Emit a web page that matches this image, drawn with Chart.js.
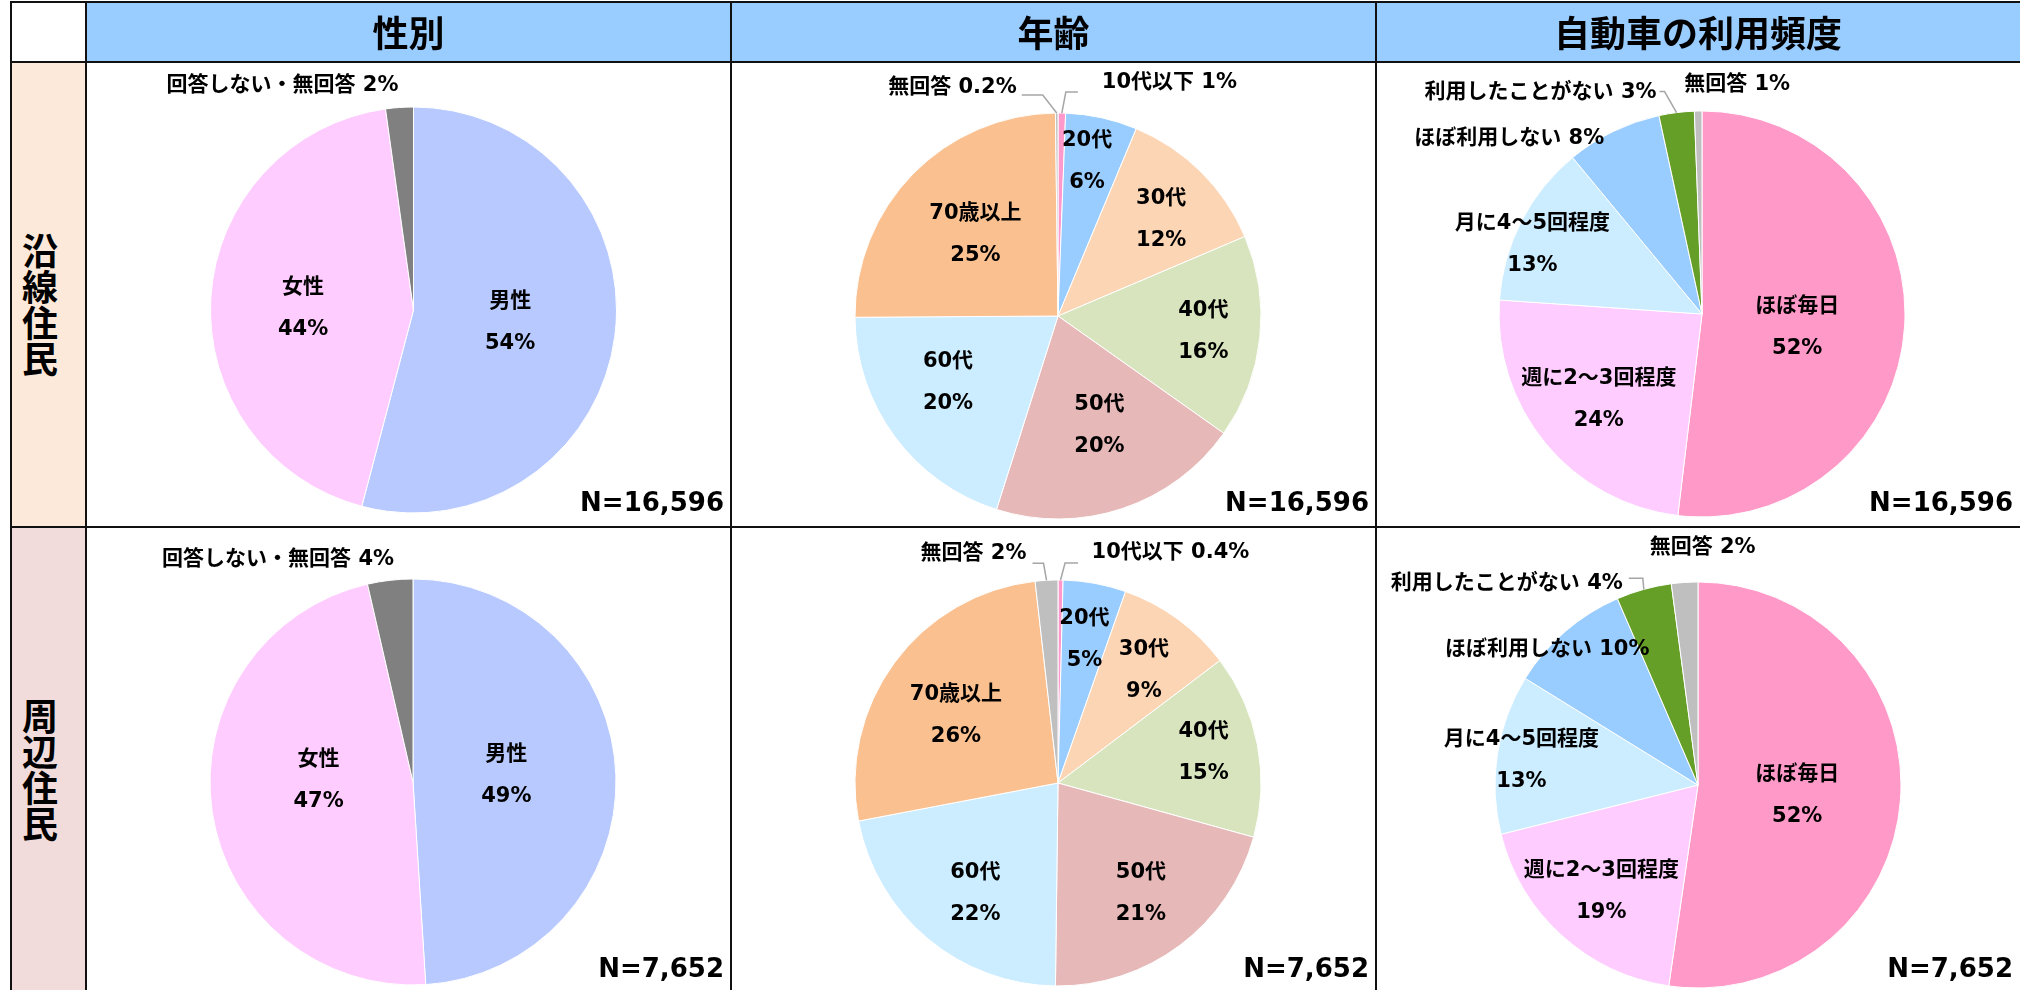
<!DOCTYPE html>
<html>
<head>
<meta charset="utf-8">
<script src="https://cdn.jsdelivr.net/npm/chart.js@4"></script>
<style>
  body { margin: 0; background: #fff; }
  #page { position: relative; width: 2020px; height: 990px; overflow: hidden;
          font-family: "DejaVu Sans", "Noto Sans CJK JP", sans-serif; font-weight: bold; color: #000; }
  .fill { position: absolute; }
  .line { position: absolute; background: #111; }
  .head { position: absolute; display: flex; align-items: center; justify-content: center;
          font-family: "Noto Sans CJK JP", sans-serif; font-size: 36px; }
  .side { position: absolute; writing-mode: vertical-rl; text-orientation: upright;
          font-family: "Noto Sans CJK JP", sans-serif; font-size: 36px; line-height: 1;
          transform: translate(-50%, -50%); }
  .n { position: absolute; font-size: 26px; white-space: nowrap; transform: translate(-100%, -50%); }
  canvas { position: absolute; }
</style>
</head>
<body>
<div id="page"></div>
<script>
// ---- data ----
const columnTitles = ['性別', '年齢', '自動車の利用頻度'];
const rowTitles = ['沿線住民', '周辺住民'];
const sampleSizes = ['N=16,596', 'N=7,652'];

const genderLabels = ['男性', '女性', '回答しない・無回答'];
const genderEnsen = [54.1, 43.7, 2.2];
const genderShuhen = [49.0, 47.4, 3.6];

const ageLabels = ['10代以下', '20代', '30代', '40代', '50代', '60代', '70歳以上', '無回答'];
const ageEnsen = [0.6, 5.7, 12.3, 16.2, 20.1, 20.0, 24.9, 0.2];
const ageShuhen = [0.4, 5.0, 9.3, 14.6, 20.9, 21.8, 26.2, 1.8];

const carLabels = ['ほぼ毎日', '週に2～3回程度', '月に4～5回程度', 'ほぼ利用しない', '利用したことがない', '無回答'];
const carEnsen = [51.9, 24.2, 12.9, 7.6, 2.8, 0.6];
const carShuhen = [52.3, 18.8, 12.7, 9.7, 4.4, 2.1];

// ---- styling / layout ----
const genderColors = ['#B7C9FE', '#FFCCFF', '#808080'];
const ageColors = ['#FF99CC', '#99CCFF', '#FCD5B5', '#D7E4BD', '#E6B9B8', '#CCECFF', '#FAC090', '#BFBFBF'];
const carColors = ['#FF99C8', '#FFCCFF', '#CCECFF', '#99CCFF', '#669F28', '#BFBFBF'];

const colEdges = [86, 731, 1376, 2020];
const rowEdges = [62, 527, 990];
const RADIUS = 203;
const pieCenters = [[[413.5, 310], [1058, 316], [1702, 314]],
                    [[413, 782], [1058, 783], [1698, 785]]];
const LABEL_FONT = 'bold 21px "DejaVu Sans", "Noto Sans CJK JP", sans-serif';

// label placement: f = fraction of radius along slice middle, dx/dy nudges
const genderEnsenPos = [{f: .48}, {f: .545, dy: 5}, {f: 1, dx: -117, dy: -22, one: true}];
const genderShuhenPos = [{f: .46, dy: -4}, {f: .47, dy: -15}, {f: 1, dx: -112, dy: -21, one: true}];
const ageEnsenPos = [
  {f: 1, dx: 40, dy: -30, one: true, align: 'left', leader: [[4, -21], [16, -21]]},
  {f: .78, dx: -5}, {f: .70, dx: 3, dy: 4}, {f: .72}, {f: .58, dx: 4, dy: -2},
  {f: .63, dx: -7, dy: -9}, {f: .57},
  {f: 1, dx: -40, dy: -25, one: true, align: 'right', leader: [[-14, -18], [-35, -18]]}
];
const ageShuhenPos = [
  {f: 1, dx: 31, dy: -27, one: true, align: 'left', leader: [[4.5, -17], [17.5, -17]]},
  {f: .72}, {f: .70, dx: 2, dy: 2}, {f: .73, dy: -3}, {f: .68},
  {f: .68, dx: 6, dy: 5}, {f: .60, dx: -4, dy: 5},
  {f: 1, dx: -20, dy: -27, one: true, align: 'right', leader: [[-3, -17], [-14, -17]]}
];
const carEnsenPos = [
  {f: .47, dy: 8}, {f: .66}, {f: .9, dx: -7, dy: 14},
  {f: 1, dx: -9, dy: 7, one: true, align: 'right'},
  {f: 1, dx: -20, dy: -20, one: true, align: 'right', leader: [[-12, -21], [-17, -21]]},
  {f: 1, dx: -14, dy: -26, one: true, align: 'left'}
];
const carShuhenPos = [
  {f: .49, dy: 3}, {f: .71}, {f: .88, dy: 3},
  {f: 1, dx: -18, dy: 18, one: true},
  {f: 1, dx: -21, dy: -6, one: true, align: 'right', leader: [[-1, -11], [-15, -11]]},
  {f: 1, dx: 18, dy: -35, one: true}
];

const panels = [
  [[genderLabels, genderEnsen, genderColors, genderEnsenPos],
   [ageLabels, ageEnsen, ageColors, ageEnsenPos],
   [carLabels, carEnsen, carColors, carEnsenPos]],
  [[genderLabels, genderShuhen, genderColors, genderShuhenPos],
   [ageLabels, ageShuhen, ageColors, ageShuhenPos],
   [carLabels, carShuhen, carColors, carShuhenPos]]
];

const fmt = (v) => (v < 0.5 ? v.toFixed(1) : String(Math.round(v)));

const page = document.getElementById('page');
function box(cls, x, y, w, h, bg) {
  const d = document.createElement('div');
  d.className = cls;
  Object.assign(d.style, {left: x + 'px', top: y + 'px', width: w + 'px', height: h + 'px'});
  if (bg) d.style.background = bg;
  page.appendChild(d);
  return d;
}

// backgrounds
box('fill', 86, 2, 2020 - 86, 60, '#99CCFF');
box('fill', 11, rowEdges[0], 75, rowEdges[1] - rowEdges[0], '#FDE9D9');
box('fill', 11, rowEdges[1], 75, rowEdges[2] - rowEdges[1], '#F2DCDB');

const sliceLabels = {
  id: 'sliceLabels',
  afterDraw(chart, args, opts) {
    const ctx = chart.ctx;
    const values = chart.data.datasets[0].data;
    ctx.save();
    ctx.font = LABEL_FONT;
    ctx.fillStyle = '#000';
    ctx.textBaseline = 'middle';
    chart.getDatasetMeta(0).data.forEach((arc, i) => {
      const s = opts.specs[i];
      const p = arc.getProps(['x', 'y', 'startAngle', 'endAngle', 'outerRadius'], true);
      const mid = (p.startAngle + p.endAngle) / 2;
      const px = p.x + Math.cos(mid) * p.outerRadius * s.f;
      const py = p.y + Math.sin(mid) * p.outerRadius * s.f;
      const lx = px + (s.dx || 0), ly = py + (s.dy || 0);
      if (s.leader) {
        ctx.beginPath();
        ctx.strokeStyle = '#A6A6A6';
        ctx.lineWidth = 1.5;
        ctx.moveTo(px, py);
        s.leader.forEach(([ox, oy]) => ctx.lineTo(px + ox, py + oy));
        ctx.stroke();
      }
      const name = chart.data.labels[i];
      const pct = fmt(values[i]) + '%';
      ctx.textAlign = s.align || 'center';
      if (s.one) {
        ctx.fillText(name + ' ' + pct, lx, ly);
      } else {
        ctx.fillText(name, lx, ly - 21);
        ctx.fillText(pct, lx, ly + 21);
      }
    });
    ctx.restore();
  }
};

panels.forEach((row, r) => {
  row.forEach(([labels, values, colors, specs], c) => {
    const x0 = colEdges[c] + 1, x1 = colEdges[c + 1];
    const y0 = rowEdges[r] + 1, y1 = rowEdges[r + 1];
    const [cx, cy] = pieCenters[r][c];
    const cv = document.createElement('canvas');
    cv.width = x1 - x0;
    cv.height = y1 - y0;
    cv.style.left = x0 + 'px';
    cv.style.top = y0 + 'px';
    page.appendChild(cv);
    new Chart(cv.getContext('2d'), {
      type: 'pie',
      data: {
        labels: labels,
        datasets: [{
          data: values,
          backgroundColor: colors,
          borderColor: '#ffffff',
          borderWidth: 1,
          radius: RADIUS
        }]
      },
      options: {
        responsive: false,
        animation: false,
        events: [],
        layout: {
          padding: {
            left: cx - RADIUS - x0,
            right: x1 - (cx + RADIUS),
            top: cy - RADIUS - y0,
            bottom: y1 - (cy + RADIUS)
          }
        },
        plugins: {
          legend: {display: false},
          tooltip: {enabled: false},
          sliceLabels: {specs: specs}
        }
      },
      plugins: [sliceLabels]
    });
  });
});

// grid lines
box('line', 10, 1, 2010, 2);
box('line', 10, 61, 2010, 2);
box('line', 10, 526, 2010, 2);
box('line', 10, 1, 2, 989);
[85, 730, 1375].forEach((x) => box('line', x, 1, 2, 989));

// headers
columnTitles.forEach((t, c) => {
  const d = box('head', colEdges[c], 2, colEdges[c + 1] - colEdges[c], 58);
  d.textContent = t;
});

// row titles
const rowTitleY = [305, 770];
rowTitles.forEach((t, r) => {
  const d = document.createElement('div');
  d.className = 'side';
  d.style.left = '40px';
  d.style.top = rowTitleY[r] + 'px';
  d.textContent = t;
  page.appendChild(d);
});

// sample sizes
const nY = [502, 968];
sampleSizes.forEach((t, r) => {
  [0, 1, 2].forEach((c) => {
    const d = document.createElement('div');
    d.className = 'n';
    d.style.left = (colEdges[c + 1] - 7) + 'px';
    d.style.top = nY[r] + 'px';
    d.textContent = t;
    page.appendChild(d);
  });
});
</script>
</body>
</html>
